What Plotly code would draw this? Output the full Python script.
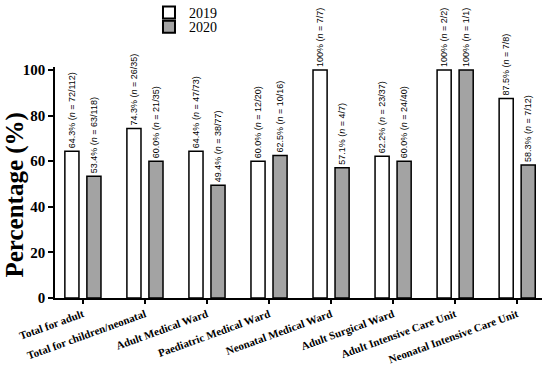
import plotly.graph_objects as go

categories = ["Total for adult", "Total for children/neonatal", "Adult Medical Ward",
              "Paediatric Medical Ward", "Neonatal Medical Ward", "Adult Surgical Ward",
              "Adult Intensive Care Unit", "Neonatal Intensive Care Unit"]
vals_2019 = [64.3, 74.3, 64.4, 60.0, 100, 62.2, 100, 87.5]
vals_2020 = [53.4, 60.0, 49.4, 62.5, 57.1, 60.0, 100, 58.3]
pct_2019 = ["64.3%", "74.3%", "64.4%", "60.0%", "100%", "62.2%", "100%", "87.5%"]
pct_2020 = ["53.4%", "60.0%", "49.4%", "62.5%", "57.1%", "60.0%", "100%", "58.3%"]
n_2019 = ["72/112", "26/35", "47/73", "12/20", "7/7", "23/37", "2/2", "7/8"]
n_2020 = ["63/118", "21/35", "38/77", "10/16", "4/7", "24/40", "1/1", "7/12"]
y_ticks = [0, 20, 40, 60, 80, 100]

def labels(p, n):
    return [f"{a} (<i>n</i> = {b})" for a, b in zip(p, n)]

x_idx = list(range(len(categories)))
txtfont = dict(family="Liberation Sans Narrow, Liberation Sans, Arial", size=9, color="black")

fig = go.Figure()
fig.add_trace(go.Bar(x=x_idx, y=vals_2019, name="2019", legend="legend",
                     marker=dict(color="white", line=dict(color="black", width=1.5)),
                     text=labels(pct_2019, n_2019), textposition="outside", textangle=-90,
                     constraintext="none",
                     textfont=txtfont, cliponaxis=False))
fig.add_trace(go.Bar(x=x_idx, y=vals_2020, name="2020", legend="legend2",
                     marker=dict(color="#A3A3A3", line=dict(color="black", width=1.5)),
                     text=labels(pct_2020, n_2020), textposition="outside", textangle=-90,
                     constraintext="none",
                     textfont=txtfont, cliponaxis=False))

serif = "Palatino Linotype, Book Antiqua, Liberation Serif, DejaVu Serif, serif"
legfont = dict(family=serif, size=14, color="black")
fig.update_layout(
    width=550, height=365,
    margin=dict(l=55, r=8, t=67, b=67, autoexpand=False),
    paper_bgcolor="white", plot_bgcolor="white",
    barmode="group", bargap=0.29, bargroupgap=0.36,
    showlegend=True,
    legend=dict(x=0.193, y=1.234, xanchor="left", yanchor="middle", font=legfont,
                itemsizing="constant", bgcolor="rgba(0,0,0,0)"),
    legend2=dict(x=0.193, y=1.173, xanchor="left", yanchor="middle", font=legfont,
                 itemsizing="constant", bgcolor="rgba(0,0,0,0)"),
    xaxis=dict(range=[-0.45, 7.4], tickmode="array", tickvals=x_idx, ticktext=categories,
               tickangle=-20, showline=True, linecolor="black", linewidth=1.5,
               ticks="outside", ticklen=4, tickwidth=1.5, tickcolor="black",
               showgrid=False, zeroline=False, automargin=False,
               tickfont=dict(family=serif, size=11, color="black", weight="bold")),
    yaxis=dict(range=[0, 101.3], tickmode="array", tickvals=y_ticks,
               showline=True, linecolor="black", linewidth=1.5,
               ticks="outside", ticklen=5, tickwidth=1.5, tickcolor="black",
               showgrid=False, zeroline=False, automargin=False,
               tickfont=dict(family=serif, size=15, color="black", weight="bold")),
    annotations=[dict(text="<b>Percentage (%)</b>", textangle=-90, showarrow=False,
                      xref="paper", yref="paper", x=-0.083, y=0.446,
                      xanchor="center", yanchor="middle",
                      font=dict(family=serif, size=25, color="black"))],
    font=dict(family=serif, color="black"),
)

fig.write_html("out.html", post_script="document.body.style.margin='0';",
               config={"displayModeBar": False})
